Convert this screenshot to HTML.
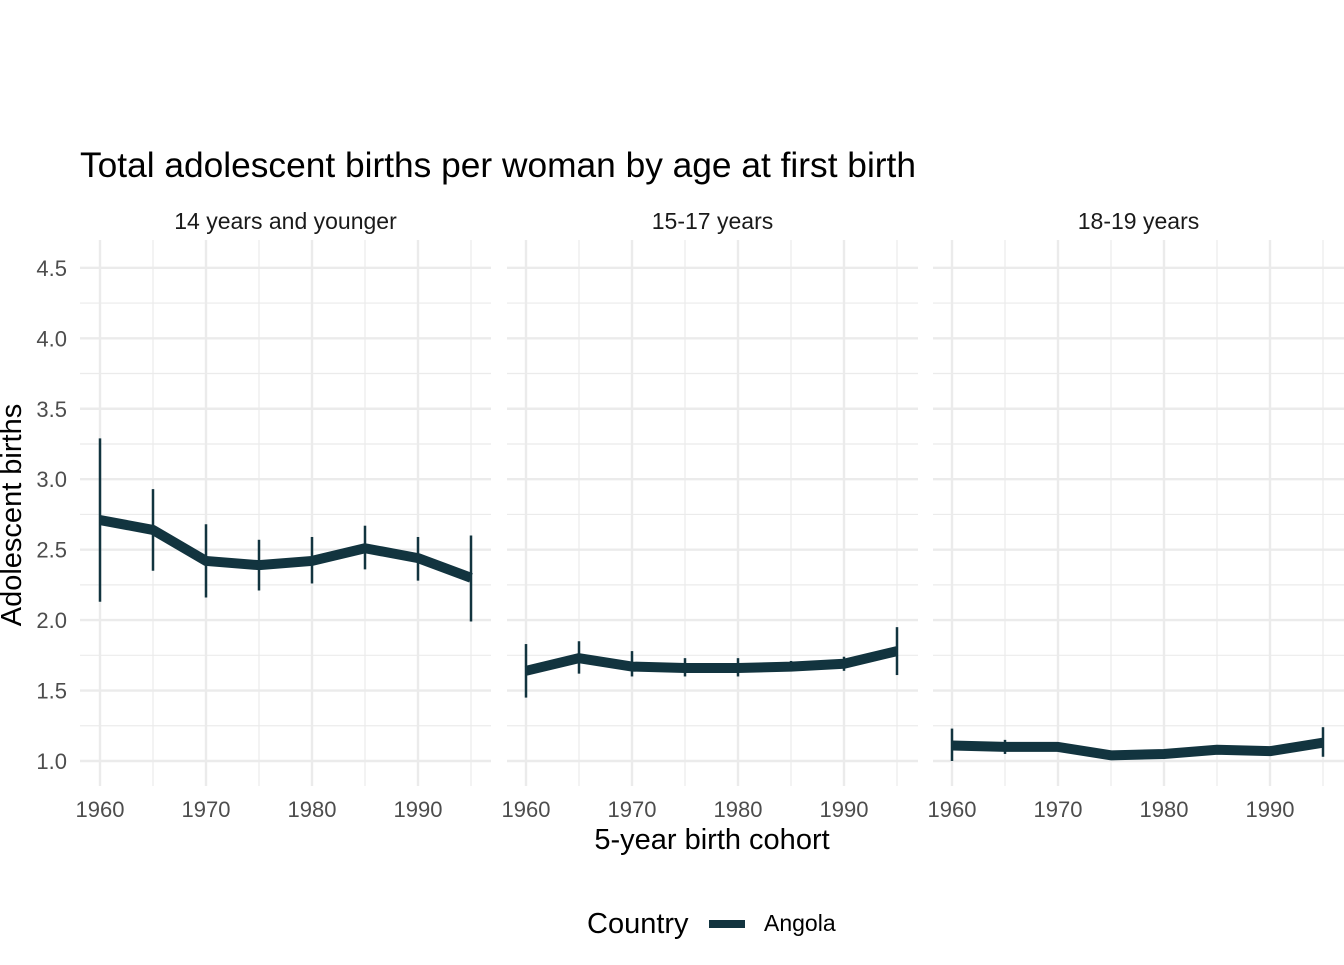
<!DOCTYPE html>
<html><head><meta charset="utf-8">
<style>
body{margin:0;background:#fff;}
svg text{font-family:"Liberation Sans",Arial,sans-serif;}
</style></head>
<body>
<svg id="chart" width="1344" height="960" xmlns="http://www.w3.org/2000/svg">
<rect width="1344" height="960" fill="#fff"/>
<text x="80" y="177" font-size="35" textLength="836" lengthAdjust="spacingAndGlyphs" fill="#000">Total adolescent births per woman by age at first birth</text>
<text transform="translate(21,515) rotate(-90)" text-anchor="middle" font-size="29" fill="#000">Adolescent births</text>
<text x="712" y="849" text-anchor="middle" font-size="29" fill="#000">5-year birth cohort</text>
<g>
<text x="587" y="933" font-size="29" fill="#000">Country</text>
<line x1="709" y1="924" x2="745" y2="924" stroke="#12343f" stroke-width="8"/>
<text x="764" y="931" font-size="23" fill="#000">Angola</text>
</g>
<g id="panels"></g>
</svg>
<script>
const panelTitles=["14 years and younger","15-17 years","18-19 years"];
const years=[1960,1965,1970,1975,1980,1985,1990,1995];
const values1=[2.71,2.64,2.42,2.39,2.42,2.51,2.44,2.30];
const lower1=[2.13,2.35,2.16,2.21,2.26,2.36,2.28,1.99];
const upper1=[3.29,2.93,2.68,2.57,2.59,2.67,2.59,2.60];
const values2=[1.64,1.73,1.67,1.66,1.66,1.67,1.69,1.78];
const lower2=[1.45,1.62,1.60,1.60,1.60,1.64,1.64,1.61];
const upper2=[1.83,1.85,1.78,1.73,1.73,1.71,1.74,1.95];
const values3=[1.11,1.10,1.10,1.04,1.05,1.08,1.07,1.13];
const lower3=[1.00,1.05,1.07,1.04,1.05,1.08,1.07,1.03];
const upper3=[1.23,1.15,1.13,1.04,1.05,1.08,1.07,1.24];
const yTicks=[1.0,1.5,2.0,2.5,3.0,3.5,4.0,4.5];
const xTicks=[1960,1970,1980,1990];
const series=[[values1,lower1,upper1],[values2,lower2,upper2],[values3,lower3,upper3]];
const NS="http://www.w3.org/2000/svg";
const g=document.getElementById('panels');
const panelLeft=[80,507,933], panelW=411;
const x0s=[100,526,952];
function yS(v){return 761-(v-1)*140.9;}
function mk(t,a,p){const e=document.createElementNS(NS,t);for(const k in a)e.setAttribute(k,a[k]);(p||g).appendChild(e);return e;}
series.forEach((s,pi)=>{
  const L=panelLeft[pi],R=L+panelW;
  const xS=yr=>x0s[pi]+(yr-1960)*10.6;
  const pg=mk('g',{});
  
  
  for(let v=1.0;v<=4.51;v+=0.25){
    const major=Math.abs(v*2-Math.round(v*2))<1e-6;
    const ln=mk('line',{x1:L,x2:R,y1:yS(v),y2:yS(v),stroke:'#ebebeb','stroke-width':major?2.4:1.2},pg);
    
    
  }
  for(let yr=1960;yr<=1995;yr+=5){
    const major=yr%10===0;
    const ln=mk('line',{x1:xS(yr),x2:xS(yr),y1:240,y2:786,stroke:'#ebebeb','stroke-width':major?2.4:1.2},pg);
    
    
  }
  const st=mk('text',{x:(L+R)/2,y:229,'text-anchor':'middle','font-size':23,fill:'#1a1a1a'},pg);
  st.textContent=panelTitles[pi];
  
  
  xTicks.forEach(t=>{
    const tx=mk('text',{x:xS(t),y:817,'text-anchor':'middle','font-size':22,fill:'#4d4d4d'},pg);
    tx.textContent=t;
    
    
  });
  if(pi===0){
    yTicks.forEach(t=>{
      const ty=mk('text',{x:67,y:yS(t)+8,'text-anchor':'end','font-size':22,fill:'#4d4d4d'},pg);
      ty.textContent=t.toFixed(1);
      
      
    });
  }
  const [vals,lo,hi]=s;
  years.forEach((yr,i)=>{
    if(hi[i]-lo[i]<0.005)return;
    const eb=mk('line',{x1:xS(yr),x2:xS(yr),y1:yS(lo[i]),y2:yS(hi[i]),stroke:'#12343f','stroke-width':2.5},pg);
    
    
  });
  const pts=years.map((yr,i)=>xS(yr)+','+yS(vals[i])).join(' ');
  const pl=mk('polyline',{points:pts,fill:'none',stroke:'#12343f','stroke-width':10,'stroke-linejoin':'round'},pg);
  
  
});
</script>
</body></html>
